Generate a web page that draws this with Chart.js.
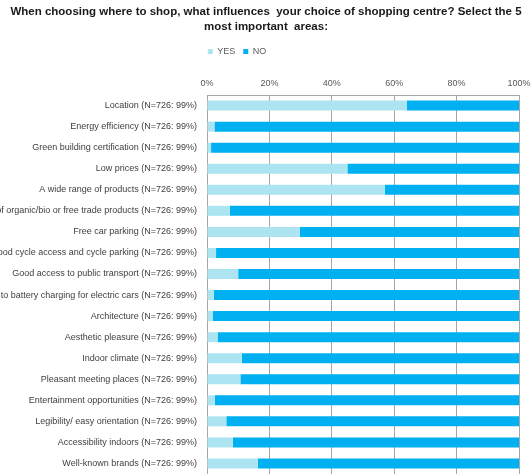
<!DOCTYPE html>
<html lang="en">
<head>
    <meta charset="UTF-8">
    <title>Shopping centre choice</title>
    <style>
        html, body { margin: 0; padding: 0; background: #fff; overflow: hidden; }
        canvas { display: block; }
    </style>
</head>
<body>
    <canvas id="shopChart" width="532" height="474"></canvas>

    <script src="https://cdn.jsdelivr.net/npm/chart.js"></script>
    <script>
        // answer options (base wording, sample info appended below)
        const areas = [
            "Location",
            "Energy efficiency",
            "Green building certification",
            "Low prices",
            "A wide range of products",
            "Availability of organic/bio or free trade products",
            "Free car parking",
            "Good cycle access and cycle parking",
            "Good access to public transport",
            "Access to battery charging for electric cars",
            "Architecture",
            "Aesthetic pleasure",
            "Indoor climate",
            "Pleasant meeting places",
            "Entertainment opportunities",
            "Legibility/ easy orientation",
            "Accessibility indoors",
            "Well-known brands"
        ];
        const sampleNote = " (N=726: 99%)";

        // share of respondents, in %
        const yesShare = [64, 2.4, 1.3, 45, 57, 7.3, 29.7, 2.9, 10, 2.2, 1.8, 3.4, 11.2, 10.7, 2.5, 6.2, 8.3, 16.3];
        const noShare  = [36, 97.6, 98.7, 55, 43, 92.7, 70.3, 97.1, 90, 97.8, 98.2, 96.6, 88.8, 89.3, 97.5, 93.8, 91.7, 83.7];

        const tickSteps = [0, 20, 40, 60, 80, 100];

        const labels = areas.map(a => a + sampleNote);

        const gridGrey = "#a6a6a6";
        const textGrey = "#595959";
        const fontFamily = "'Liberation Sans', Arial, sans-serif";

        // the legend sits a bit left of centre in the original
        const nudgeLegend = {
            id: "nudgeLegend",
            afterLayout(chart) {
                chart.legend.left -= 29;
                chart.legend.right -= 29;
            }
        };

        new Chart(document.getElementById("shopChart"), {
            type: "bar",
            data: {
                labels: labels,
                datasets: [
                    { label: "YES", data: yesShare, backgroundColor: "#ace5f1", barPercentage: 0.5, categoryPercentage: 0.95 },
                    { label: "NO", data: noShare, backgroundColor: "#00b0f0", barPercentage: 0.5, categoryPercentage: 0.95 }
                ]
            },
            plugins: [nudgeLegend],
            options: {
                indexAxis: "y",
                responsive: false,
                animation: false,
                layout: { padding: 0 },
                plugins: {
                    title: {
                        display: true,
                        text: ["When choosing where to shop, what influences  your choice of shopping centre? Select the 5", "most important  areas:"],
                        color: "#1a1a1a",
                        font: { family: fontFamily, size: 11.5, weight: "bold", lineHeight: 1.35 },
                        padding: { top: 4, bottom: 4 }
                    },
                    legend: {
                        position: "top",
                        labels: {
                            boxWidth: 5,
                            boxHeight: 5,
                            padding: 8,
                            color: textGrey,
                            font: { family: fontFamily, size: 9 }
                        }
                    },
                    tooltip: { enabled: false }
                },
                scales: {
                    x: {
                        position: "top",
                        stacked: true,
                        min: 0,
                        max: 100,
                        afterBuildTicks: axis => { axis.ticks = tickSteps.map(v => ({ value: v })); },
                        afterFit: axis => {
                            axis.height = 29;
                            axis.paddingLeft = 0;
                            axis.paddingRight = 13;
                        },
                        ticks: {
                            padding: 6,
                            color: textGrey,
                            font: { family: fontFamily, size: 9 },
                            callback: v => v + "%"
                        },
                        grid: { color: gridGrey, drawTicks: false },
                        border: { display: true, color: gridGrey }
                    },
                    y: {
                        stacked: true,
                        afterFit: axis => {
                            axis.width = 207;
                            axis.paddingTop = 0;
                            axis.paddingBottom = 0;
                        },
                        ticks: {
                            padding: 2,
                            autoSkip: false,
                            color: "#404040",
                            font: { family: fontFamily, size: 9 }
                        },
                        grid: { display: false },
                        border: { display: true, color: gridGrey }
                    }
                }
            }
        });
    </script>
</body>
</html>
